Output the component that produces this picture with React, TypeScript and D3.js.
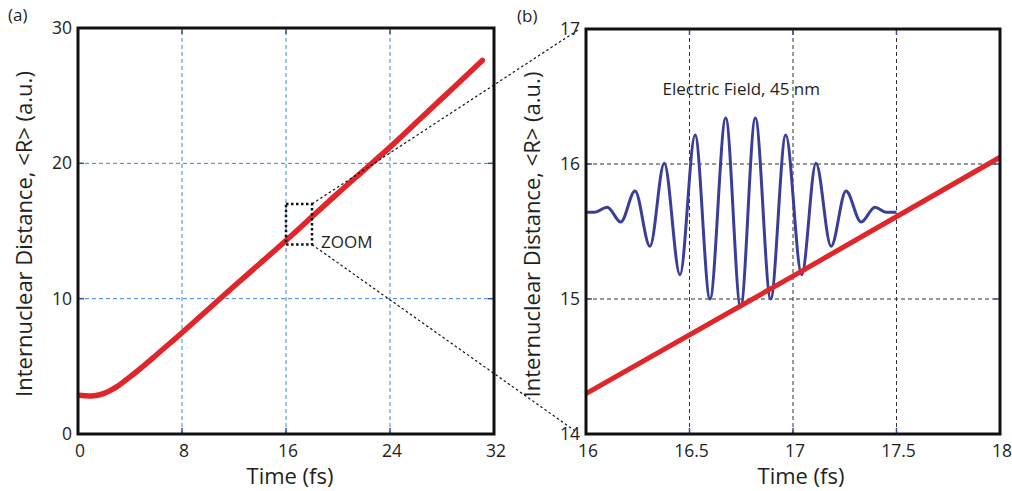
import React from "react";
import * as d3 from "d3";

// Internuclear distance <R> (a.u.) vs time (fs)
const timeFs = [0, 0.5, 1, 1.5, 2, 2.5, 3, 3.5, 4, 4.5, 5, 5.5, 6, 7, 8, 10, 12, 14, 16, 17, 18, 20, 22, 24, 26, 28, 30, 31.1];
const distanceR = [2.86, 2.83, 2.81, 2.86, 3.0, 3.22, 3.5, 3.85, 4.22, 4.6, 5.0, 5.4, 5.82, 6.65, 7.48, 9.2, 10.92, 12.6, 14.3, 15.17, 16.05, 17.8, 19.5, 21.2, 23.0, 24.8, 26.6, 27.6];

// Electric field (45 nm) trace, read at its extrema, drawn in <R> units of panel (b)
const fieldT = [16.0, 16.04, 16.103, 16.168, 16.237, 16.309, 16.378, 16.454, 16.527, 16.599, 16.675, 16.747, 16.818, 16.892, 16.965, 17.042, 17.111, 17.184, 17.256, 17.329, 17.396, 17.45, 17.5];
const fieldR = [15.642, 15.642, 15.68, 15.57, 15.8, 15.39, 16.005, 15.18, 16.215, 15.0, 16.34, 14.94, 16.34, 15.0, 16.215, 15.18, 16.005, 15.39, 15.8, 15.57, 15.68, 15.642, 15.642];

const ticksAX = [0, 8, 16, 24, 32];
const ticksAY = [0, 10, 20, 30];
const ticksBX = [16, 16.5, 17, 17.5, 18];
const ticksBY = [14, 15, 16, 17];

const FONT = "'Open Sans', 'Noto Sans', sans-serif";
const TXT = "#231f20";
const RED = "#e1262b";
const BLUE = "#3a3e98";
const TICKC = "#3c4ea3";

type Pt = [number, number];

function Panel(props: {
  x: d3.ScaleLinear<number, number>;
  y: d3.ScaleLinear<number, number>;
  xt: number[];
  yt: number[];
  gridColor: string;
  id: string;
  children?: React.ReactNode;
  labelDx: number;
  yLabelX: number;
}) {
  const { x, y, xt, yt, gridColor, id } = props;
  const [x0, x1] = x.range();
  const [y0, y1] = y.range(); // y0 bottom, y1 top
  const inner = xt.slice(1, -1);
  const innerY = yt.slice(1, -1);
  const tl = 6;
  return (
    <g>
      <defs>
        <clipPath id={id}>
          <rect x={x0} y={y1} width={x1 - x0} height={y0 - y1} />
        </clipPath>
      </defs>
      <rect x={x0} y={y1} width={x1 - x0} height={y0 - y1} fill="#fff" />
      {inner.map((v) => (
        <line key={"gx" + v} x1={x(v)} x2={x(v)} y1={y0} y2={y1} stroke={gridColor} strokeWidth={1} strokeDasharray="4,3" />
      ))}
      {innerY.map((v) => (
        <line key={"gy" + v} x1={x0} x2={x1} y1={y(v)} y2={y(v)} stroke={gridColor} strokeWidth={1} strokeDasharray="4,3" />
      ))}
      {xt.map((v) => (
        <g key={"tx" + v}>
          <line x1={x(v)} x2={x(v)} y1={y0} y2={y0 - tl} stroke={TICKC} strokeWidth={1.5} />
          <line x1={x(v)} x2={x(v)} y1={y1} y2={y1 + tl} stroke={TICKC} strokeWidth={1.5} />
        </g>
      ))}
      {yt.map((v) => (
        <g key={"ty" + v}>
          <line x1={x0} x2={x0 + tl} y1={y(v)} y2={y(v)} stroke={TICKC} strokeWidth={1.5} />
          <line x1={x1} x2={x1 - tl} y1={y(v)} y2={y(v)} stroke={TICKC} strokeWidth={1.5} />
        </g>
      ))}
      <g clipPath={`url(#${id})`}>{props.children}</g>
      <rect x={x0} y={y1} width={x1 - x0} height={y0 - y1} fill="none" stroke="#111" strokeWidth={3} />
      {xt.map((v) => (
        <text key={"lx" + v} x={x(v) + 2} y={y0 + 23} textAnchor="middle" fontSize={17.5} fill={TXT} fontFamily={FONT}>
          {String(v)}
        </text>
      ))}
      {yt.map((v) => (
        <text key={"ly" + v} x={x0 - 6} y={y(v) + 6} textAnchor="end" fontSize={17.5} fill={TXT} fontFamily={FONT}>
          {String(v)}
        </text>
      ))}
      <text x={(x0 + x1) / 2 + props.labelDx} y={y0 + 50} textAnchor="middle" fontSize={22} fill={TXT} fontFamily={FONT}>
        Time (fs)
      </text>
      <text
        transform={`translate(${props.yLabelX},${(y0 + y1) / 2 + 3}) rotate(-90)`}
        textAnchor="middle"
        fontSize={22}
        fill={TXT}
        fontFamily={FONT}
      >
        Internuclear Distance, &lt;R&gt; (a.u.)
      </text>
    </g>
  );
}

export default function App() {
  const xA = d3.scaleLinear().domain([0, 32]).range([78, 494]);
  const yA = d3.scaleLinear().domain([0, 30]).range([434, 28]);
  const xB = d3.scaleLinear().domain([16, 18]).range([586, 1000]);
  const yB = d3.scaleLinear().domain([14, 17]).range([434, 29]);

  const pts: Pt[] = timeFs.map((t, i) => [t, distanceR[i]]);
  const field: Pt[] = fieldT.map((t, i) => [t, fieldR[i]]);

  const lineA = d3.line<Pt>().x((d) => xA(d[0])).y((d) => yA(d[1])).curve(d3.curveMonotoneX);
  const lineB = d3.line<Pt>().x((d) => xB(d[0])).y((d) => yB(d[1])).curve(d3.curveMonotoneX);

  // zoom box in panel (a) covers panel (b)'s domain
  const zx0 = xA(16), zx1 = xA(18), zy0 = yA(17), zy1 = yA(14);

  return (
    <svg width={1012} height={491} style={{ position: "absolute", left: 0, top: 0, background: "#fff" }}>
      <rect width={1012} height={491} fill="#fff" />
      <Panel x={xA} y={yA} xt={ticksAX} yt={ticksAY} gridColor="#3c86d2" id="clipA" labelDx={4} yLabelX={32}>
        <path d={lineA(pts) || ""} fill="none" stroke={RED} strokeWidth={5.5} strokeLinecap="round" />
      </Panel>
      <rect x={zx0} y={zy0} width={zx1 - zx0} height={zy1 - zy0} fill="none" stroke="#111" strokeWidth={2.5} strokeDasharray="2.5,2.5" />
      <text x={zx1 + 9} y={248} fontSize={17} fill={TXT} fontFamily={FONT}>ZOOM</text>

      <Panel x={xB} y={yB} xt={ticksBX} yt={ticksBY} gridColor="#333" id="clipB" labelDx={8} yLabelX={540}>
        <path d={lineB(field) || ""} fill="none" stroke={BLUE} strokeWidth={3} />
        <path d={lineB(pts) || ""} fill="none" stroke={RED} strokeWidth={5} />
      </Panel>
      <text x={xB(16.75)} y={95} textAnchor="middle" fontSize={17} fill={TXT} fontFamily={FONT}>
        Electric Field, 45 nm
      </text>

      <line x1={zx1} y1={zy0} x2={xB(16) - 8} y2={yB(17) + 1} stroke="#111" strokeWidth={1.2} strokeDasharray="2.5,2.5" />
      <line x1={zx1} y1={zy1} x2={xB(16) - 8} y2={yB(14) - 1} stroke="#111" strokeWidth={1.2} strokeDasharray="2.5,2.5" />

      <text x={8} y={21} fontSize={17} fill={TXT} fontFamily={FONT}>(a)</text>
      <text x={517} y={22} fontSize={17} fill={TXT} fontFamily={FONT}>(b)</text>
    </svg>
  );
}
